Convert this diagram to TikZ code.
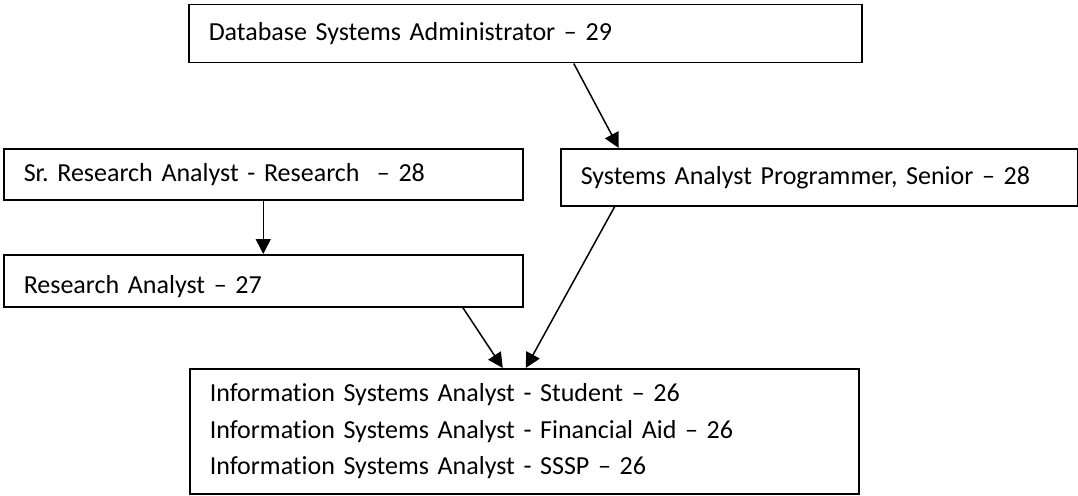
\documentclass[tikz,border=0pt]{standalone}
\usepackage{fontspec}
\setmainfont{Carlito}[Ligatures=NoCommon]
\usetikzlibrary{arrows.meta}
\frenchspacing
\tikzset{
  box/.style={draw, line width=1.5pt, inner xsep=20pt, inner ysep=0pt, align=left,
    anchor=north west, font=\fontsize{26}{30}\selectfont},
  arr/.style={line width=1.5pt, -{Triangle[length=15pt,width=15pt]}}
}
\begin{document}
\begin{tikzpicture}[x=1pt,y=-1pt]
\useasboundingbox (0,0) rectangle (1078,495);
\node[box, text width=633pt, minimum height=58pt] (b1) at (188,4) {Database Systems Administrator – 29};
\node[box, text width=479pt, minimum height=51pt] (b2) at (3,148) {Sr. Research Analyst - Research\ \ – 28};
\node[box, text width=477pt, minimum height=57pt] (b3) at (560,148) {Systems Analyst Programmer, Senior – 28};
\node[box, text width=479pt, minimum height=52pt] (b4) at (3,254) {\raisebox{-6pt}[\height][\depth]{Research Analyst – 27}};
\node[box, text width=629pt, minimum height=125pt, font=\fontsize{26}{36.5}\selectfont] (b5) at (189,368)
  {Information Systems Analyst - Student – 26\\Information Systems Analyst - Financial Aid – 26\\Information Systems Analyst - SSSP – 26};
\draw[arr] ([xshift=48.5pt]b1.south) -- ([xshift=-200.5pt]b3.north);
\draw[arr] (b2.south) -- (b4.north);
\draw[arr] ([xshift=199.5pt]b4.south) -- ([xshift=-21.5pt]b5.north);
\draw[arr] ([xshift=-204.5pt]b3.south) -- ([xshift=1.5pt]b5.north);
\end{tikzpicture}
\end{document}
